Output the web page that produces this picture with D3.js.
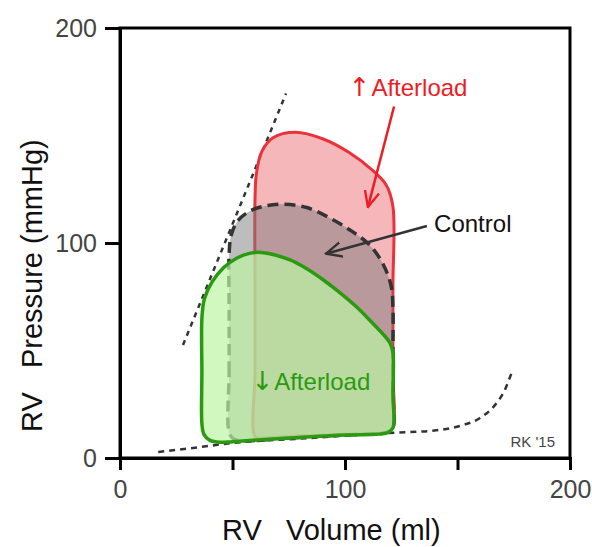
<!DOCTYPE html>
<html>
<head>
<meta charset="utf-8">
<script src="https://cdn.jsdelivr.net/npm/d3@7"></script>
<style>
  body { margin: 0; background: #fff; }
  text { font-family: "Liberation Sans", Arial, sans-serif; }
</style>
</head>
<body>
<div id="chart"></div>
<script>
// pressure-volume loops, [volume ml, pressure mmHg]
var highAfterload = [[60, 10], [60, 40], [60, 80], [60, 120], [60.6, 132], [63, 142.5], [68, 149], [78, 151.5],
    [90, 148.5], [102, 142], [112, 134], [118.3, 127], [121.3, 117], [121.3, 80], [121.3, 40], [121.3, 14.5],
    [119, 12.2], [100, 11], [75, 10], [63, 9.3]];
var control = [[48.5, 12], [48.5, 40], [48.5, 70], [48.5, 95], [49.5, 104], [52.5, 110.5], [58, 115], [65, 117.3],
    [73, 118], [83, 116.5], [93.3, 111.6], [103, 105.5], [111, 99], [117, 90], [120.5, 80], [121.3, 70],
    [121.3, 50], [121.3, 30], [121.3, 14], [119, 12], [100, 10.8], [75, 9.3], [55, 8], [50.5, 8.8]];
var lowAfterload = [[36.4, 16], [36.4, 40], [36.4, 65], [37.5, 74], [41, 82], [46, 88.5], [52, 93], [58, 95.3],
    [64, 95.5], [75.6, 92.1], [83, 88], [90.4, 82.8], [97, 77.5], [105.2, 70.2], [112, 63], [117, 57.5],
    [120, 53.5], [121.3, 49], [121.3, 30], [121.3, 14], [119, 11.8], [100, 10.7], [70, 9], [50, 7.6],
    [44.5, 7.3], [40, 8.2], [37.3, 11]];
var espvr = [[28, 52.6], [73.8, 169.5]];
var edpvr = [[17, 2.8], [35, 5], [50, 7], [80, 9], [122.2, 11.8], [137.8, 12.6], [151, 14.9], [160, 18.6],
    [166.7, 24.7], [171, 31.6], [174, 39.5]];

var xTicks = [0, 50, 100, 150, 200];
var yTicks = [0, 100, 200];

var width = 592, height = 547;
var svg = d3.select("#chart").append("svg")
    .attr("width", width)
    .attr("height", height);

var x = d3.scaleLinear().domain([0, 200]).range([120, 570]);
var y = d3.scaleLinear().domain([0, 200]).range([458, 28]);

var line = d3.line().x(function(d) { return x(d[0]); }).y(function(d) { return y(d[1]); });
var loop = d3.line().x(function(d) { return x(d[0]); }).y(function(d) { return y(d[1]); })
    .curve(d3.curveCatmullRomClosed.alpha(0.5));

svg.append("defs").selectAll("marker")
    .data([["redHead", "#ee1c24"], ["darkHead", "#333"]])
    .enter().append("marker")
    .attr("id", function(d) { return d[0]; })
    .attr("viewBox", "0 -6 12 12")
    .attr("refX", 11).attr("refY", 0)
    .attr("markerWidth", 7).attr("markerHeight", 7)
    .attr("markerUnits", "strokeWidth")
    .attr("orient", "auto")
    .append("path")
    .attr("d", "M0,-5L11,0L0,5")
    .attr("fill", "none")
    .attr("stroke", function(d) { return d[1]; })
    .attr("stroke-width", 1.6);

// relation lines
svg.append("path").attr("d", line(espvr))
    .attr("fill", "none").attr("stroke", "#333").attr("stroke-width", 2.5).attr("stroke-dasharray", "5,5");
svg.append("path").attr("d", line.curve(d3.curveMonotoneX)(edpvr))
    .attr("fill", "none").attr("stroke", "#333").attr("stroke-width", 2.5).attr("stroke-dasharray", "6,5");

// loops
svg.append("path").attr("d", loop(highAfterload))
    .attr("fill", "#f08a92").attr("fill-opacity", 0.62)
    .attr("stroke", "#e8323c").attr("stroke-width", 3);
svg.append("path").attr("d", loop(control))
    .attr("fill", "#7c7c7c").attr("fill-opacity", 0.5)
    .attr("stroke", "#333").attr("stroke-width", 3.5).attr("stroke-dasharray", "11,6");
svg.append("path").attr("d", loop(lowAfterload))
    .attr("fill", "#bcf5a4").attr("fill-opacity", 0.7)
    .attr("stroke", "#2a9a10").attr("stroke-width", 3.5);

// frame and axes
svg.append("rect")
    .attr("x", x(0)).attr("y", y(200))
    .attr("width", x(200) - x(0)).attr("height", y(0) - y(200))
    .attr("fill", "none").attr("stroke", "#000").attr("stroke-width", 3);

var gx = svg.append("g").attr("transform", "translate(0," + y(0) + ")")
    .call(d3.axisBottom(x).tickValues(xTicks).tickSize(12).tickPadding(10)
        .tickFormat(function(d) { return d % 100 === 0 ? d : ""; }));
var gy = svg.append("g").attr("transform", "translate(" + x(0) + ",0)")
    .call(d3.axisLeft(y).tickValues(yTicks).tickSize(15).tickPadding(8));
[gx, gy].forEach(function(g) {
    g.select(".domain").attr("stroke", "#000").attr("stroke-width", 3);
    g.selectAll(".tick line").attr("stroke", "#000").attr("stroke-width", 3);
    g.selectAll(".tick text").attr("fill", "#444").attr("font-size", 25)
        .attr("font-family", "Liberation Sans, Arial, sans-serif");
});

svg.append("text")
    .attr("x", 222).attr("y", 540)
    .style("white-space", "pre")
    .attr("font-size", 29).attr("fill", "#111")
    .text("RV   Volume (ml)");
svg.append("text")
    .attr("transform", "translate(42,432) rotate(-90)")
    .style("white-space", "pre")
    .attr("font-size", 29).attr("fill", "#111")
    .text("RV   Pressure (mmHg)");

// annotations
svg.append("path").attr("d", line.curve(d3.curveLinear)([[121.8, 163.5], [110.2, 116.7]]))
    .attr("stroke", "#ee1c24").attr("stroke-width", 2.5).attr("marker-end", "url(#redHead)");
svg.append("path").attr("d", line([[136.4, 107.9], [91.5, 95]]))
    .attr("stroke", "#333").attr("stroke-width", 2.5).attr("marker-end", "url(#darkHead)");

function arrowLabel(txt, glyph, vx, vp, color) {
    var t = svg.append("text").attr("x", x(vx)).attr("y", y(vp))
        .attr("font-size", 24).attr("fill", color);
    t.append("tspan").attr("font-family", "DejaVu Sans").attr("font-size", 26).text(glyph);
    t.append("tspan").attr("dx", 1).text(txt);
}
arrowLabel("Afterload", "\u2191", 101.6, 168.6, "#ee1c24");
arrowLabel("Afterload", "\u2193", 58.4, 31.8, "#2a9a10");
svg.append("text").attr("x", x(139.6)).attr("y", y(105.3))
    .attr("font-size", 24).attr("fill", "#111").text("Control");
svg.append("text").attr("x", 555).attr("y", 447).attr("text-anchor", "end")
    .attr("font-size", 15).attr("fill", "#444").text("RK '15");
</script>
</body>
</html>
